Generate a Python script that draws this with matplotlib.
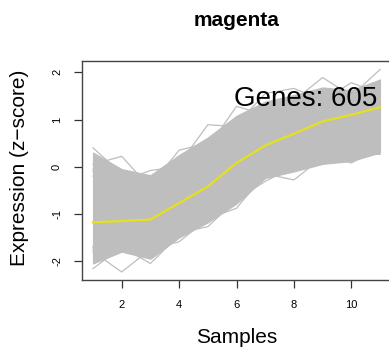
import matplotlib
matplotlib.use("Agg")
import matplotlib.pyplot as plt

plt.rcParams['font.family'] = ['Liberation Sans', 'DejaVu Sans']

# Module "magenta": per-sample expression profiles (z-scores)
samples = list(range(1, 12))
module_name = "magenta"
gene_count = 605

# Module eigen-profile (average of all genes)
mean_expr = [-1.18, -1.15, -1.12, -0.77, -0.42, 0.08, 0.45, 0.70, 0.96, 1.10, 1.26]

# Dense bulk of gene profiles: upper and lower bounds
bulk_upper = [0.30, -0.05, -0.18, 0.25, 0.62, 1.08, 1.38, 1.52, 1.68, 1.62, 1.85]
bulk_lower = [-2.05, -1.80, -1.95, -1.50, -1.18, -0.78, -0.24, -0.10, 0.06, 0.12, 0.30]

# Individual genes that stand out from the bulk
gene_hi_1 = [0.40, -0.15, -0.40, 0.35, 0.50, 0.95, 1.15, 1.30, 1.45, 1.45, 1.60]
gene_hi_2 = [0.05, 0.22, -0.45, 0.05, 0.89, 0.85, 1.15, 1.30, 1.45, 1.50, 1.65]
gene_hi_3 = [-0.05, -0.30, -0.08, 0.00, 0.40, 1.28, 1.10, 1.30, 1.45, 1.40, 1.60]
gene_hi_4 = [-0.20, -0.40, -0.50, 0.00, 0.45, 0.95, 1.20, 1.40, 1.89, 1.50, 2.06]
gene_hi_5 = [-0.10, -0.30, -0.50, -0.05, 0.40, 0.90, 1.55, 1.66, 1.40, 1.78, 1.55]
gene_lo_1 = [-2.16, -1.70, -2.05, -1.45, -1.15, -0.70, -0.20, -0.05, 0.20, 0.30, 0.40]
gene_lo_2 = [-1.80, -2.23, -1.75, -1.59, -1.10, -0.75, -0.15, 0.00, 0.20, 0.30, 0.35]
gene_lo_3 = [-1.75, -1.60, -1.80, -1.45, -1.10, -0.88, -0.15, -0.28, 0.20, 0.25, 0.40]
gene_lo_4 = [-1.70, -1.60, -1.80, -1.40, -1.10, -0.70, -0.31, 0.00, 0.11, 0.30, 0.26]
gene_lo_5 = [-1.70, -1.60, -1.80, -1.40, -1.27, -0.70, -0.15, 0.00, 0.25, 0.08, 0.40]
outlier_genes = [gene_hi_1, gene_hi_2, gene_hi_3, gene_hi_4, gene_hi_5,
                 gene_lo_1, gene_lo_2, gene_lo_3, gene_lo_4, gene_lo_5]

x_ticks = [2, 4, 6, 8, 10]
y_ticks = [-2, -1, 0, 1, 2]

W, H = 389, 351
fig = plt.figure(figsize=(W / 100, H / 100), dpi=100)
ax = fig.add_axes([81.5 / W, (H - 280) / H, 310 / W, 219 / H])

gray = '#bebebe'
ax.fill_between(samples, bulk_lower, bulk_upper, color=gray, lw=0.8, ec=gray)
for g in outlier_genes:
    ax.plot(samples, g, color=gray, lw=0.9)
ax.plot(samples, mean_expr, color='#e6e01c', lw=1.6)

ax.set_xlim(0.6, 11.4)
ax.set_ylim(-2.40, 2.24)
ax.set_xticks(x_ticks)
ax.set_yticks(y_ticks)
ax.set_xticklabels([str(t) for t in x_ticks])
ax.set_yticklabels([str(t) for t in y_ticks], rotation=90, va='center')
ax.tick_params(axis='both', length=5.5, width=0.9, labelsize=8, color='#333333')
ax.tick_params(axis='x', pad=9)
ax.tick_params(axis='y', pad=8.5)
for s in ax.spines.values():
    s.set_linewidth(1.0)
    s.set_color('#444444')

ax.text(10.9, 1.28, f"Genes: {gene_count}", ha='right', va='baseline', fontsize=20)

cx = (81.5 + 391.5) / 2 / W
fig.text(cx, 1 - 26 / H, module_name, ha='center', va='baseline',
         fontsize=15, fontweight='bold')
fig.text(cx, 1 - 343 / H, "Samples", ha='center', va='baseline', fontsize=15)
fig.text(20 / W, 1 - 168 / H, "Expression (z\u2212score)", rotation=90,
         ha='center', va='center', fontsize=15)

fig.savefig('out.png', dpi=100)
